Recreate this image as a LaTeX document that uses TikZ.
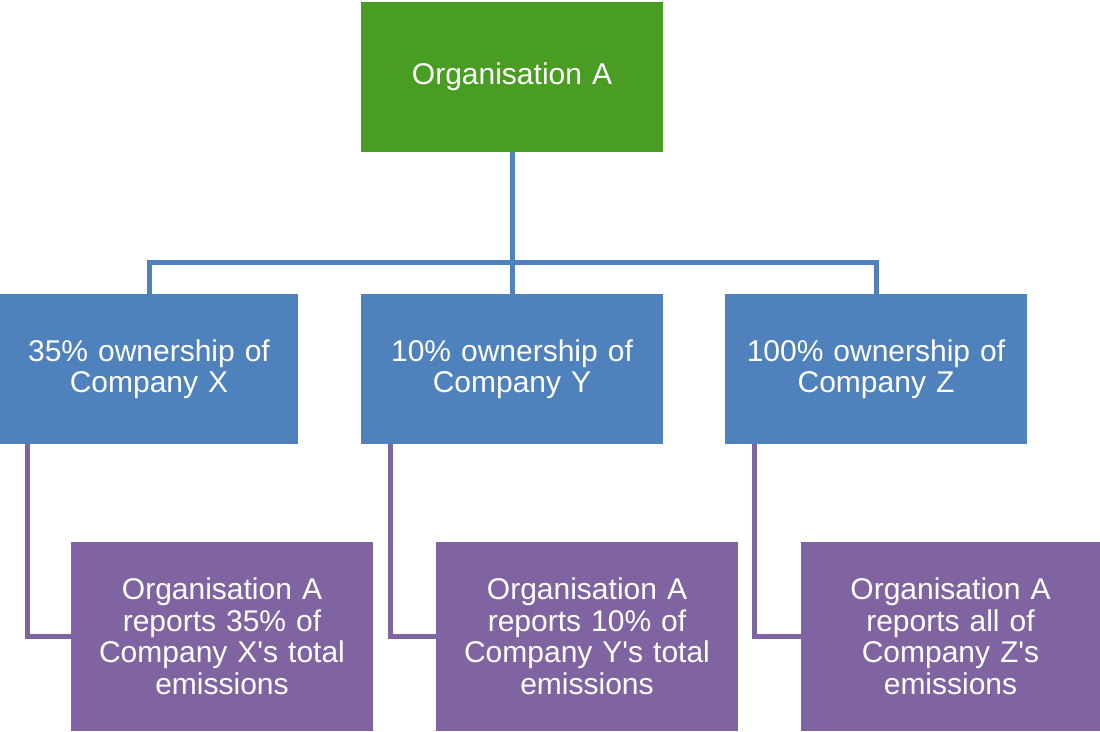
\documentclass[tikz,border=0pt]{standalone}
\usepackage{fontspec}
\setmainfont{Liberation Sans}[Ligatures=TeXOff]
\definecolor{orggreen}{HTML}{4A9D23}
\definecolor{ownblue}{HTML}{4F81BD}
\definecolor{reppurple}{HTML}{8064A2}
\begin{document}
\begin{tikzpicture}[x=1pt,y=-1pt,
  box/.style={rectangle,inner sep=0pt,minimum width=302pt,text width=290pt,align=center,text=white,
    font=\fontsize{30pt}{31.5pt}\selectfont},
  topbox/.style={box,fill=orggreen,minimum height=150pt},
  ownbox/.style={box,fill=ownblue,minimum height=150pt},
  repbox/.style={box,fill=reppurple,minimum height=189pt},
  blueline/.style={draw=ownblue,line width=5pt},
  purpleline/.style={draw=reppurple,line width=5pt}]
\useasboundingbox (0,0) rectangle (1100,731);
\node[topbox] (top) at (512,77) {\raisebox{-2pt}{Organisation A}};
\node[ownbox,minimum width=298pt] (bx) at (149,369) {35\% ownership of\\Company X};
\node[ownbox] (by) at (512,369) {10\% ownership of\\Company Y};
\node[ownbox] (bz) at (876,369) {100\% ownership of\\Company Z};
\coordinate (bar) at (512,262);
\node[repbox] (px) at (222,636.5) {Organisation A\\reports 35\% of\\Company X's total\\emissions};
\node[repbox] (py) at (587,636.5) {Organisation A\\reports 10\% of\\Company Y's total\\emissions};
\node[repbox,minimum width=299pt] (pz) at (950.5,636.5) {Organisation A\\reports all of\\Company Z's\\emissions};
\draw[blueline] (top.south) -- (by.north);
\draw[blueline] (bx.north) |- (bar) -| (bz.north);
\draw[purpleline] ([xshift=28pt]bx.south west) |- (px.west);
\draw[purpleline] ([xshift=30pt]by.south west) |- (py.west);
\draw[purpleline] ([xshift=30pt]bz.south west) |- (pz.west);
\end{tikzpicture}
\end{document}
